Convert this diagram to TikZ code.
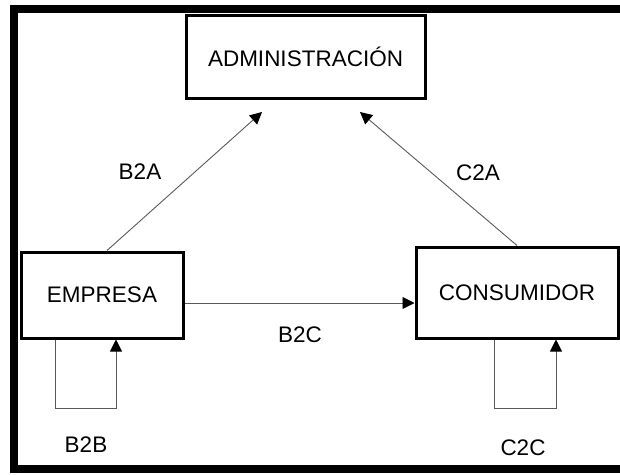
\documentclass[tikz,border=0pt]{standalone}
\usepackage{fontspec}
\setmainfont{Liberation Sans}
\usetikzlibrary{arrows.meta}

\begin{document}
\begin{tikzpicture}[x=1pt, y=-1pt, every node/.style={font=\fontsize{22.5}{27}\selectfont}]
        % estilos
        \tikzstyle{caja} = [draw=black, line width=3pt, inner sep=0pt]
        \tikzstyle{flujo} = [draw=black!65, line width=0.9pt, -{Triangle[length=12pt, width=12pt, black]}]

        \useasboundingbox (0,0) rectangle (620,474);

        % 1. marco exterior
        \draw[line width=8pt] (624,9) -- (14,9) -- (14,469) -- (624,469);

        % 2. cajas
        \node[caja, minimum width=239pt, minimum height=83pt] (admin) at (305.5,56.5) {ADMINISTRACIÓN};
        \node[caja, minimum width=162pt, minimum height=86pt] (empresa) at (102,295) {EMPRESA};
        \node[caja, minimum width=202pt, minimum height=91pt] (consumidor) at (517,292.5) {CONSUMIDOR};

        % puntas de las flechas hacia la administracion
        \coordinate (puntaB2A) at (262,112);
        \coordinate (puntaC2A) at (360,112);

        % 3. flujos
        \draw[flujo] ([xshift=5pt]empresa.north) -- (puntaB2A);
        \draw[flujo] (consumidor.north) -- (puntaC2A);
        \draw[flujo] ([yshift=-8pt]empresa.east) -- ([yshift=-8pt]empresa.east -| consumidor.west);

        % bucles B2B y C2C
        \draw[flujo] ([xshift=-47pt]empresa.south) -- ++(0,69) -| ([xshift=14pt]empresa.south);
        \draw[flujo] ([xshift=-23pt]consumidor.south) -- ++(0,69) -| ([xshift=39pt]consumidor.south);

        % 4. etiquetas
        \node (lB2A) at (140,172) {B2A};
        \node (lC2A) at (478,173) {C2A};
        \node (lB2C) at (300,335) {B2C};
        \node (lB2B) at (86,445) {B2B};
        \node (lC2C) at (523,448) {C2C};

    \end{tikzpicture}
\end{document}
